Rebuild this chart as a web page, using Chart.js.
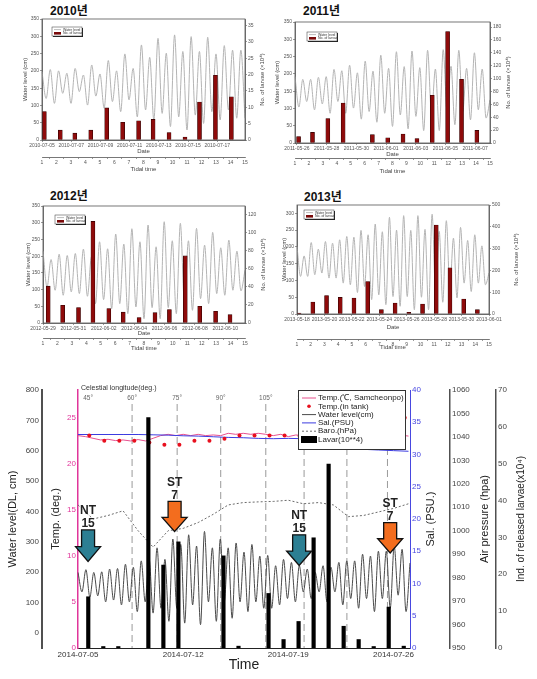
<!DOCTYPE html>
<html lang="ko">
<head>
<meta charset="utf-8">
<title>Water level and larvae release</title>
<script src="https://cdn.jsdelivr.net/npm/chart.js@4.4.1/dist/chart.umd.min.js"></script>
<style>
  html, body { margin: 0; padding: 0; background: #fff; }
  body { position: relative; width: 537px; height: 679px; overflow: hidden;
         font-family: "Liberation Sans", Arial, "Noto Sans CJK KR", sans-serif; }
  canvas { position: absolute; }
  .year { position: absolute; font-size: 12px; line-height: 12px; font-weight: bold; color: #111;
          font-family: "Liberation Sans", Arial, "Noto Sans CJK KR", sans-serif; }
</style>
</head>
<body>
<div class="year" style="left:50px; top:5px">2010년</div>
<div class="year" style="left:303px; top:5px">2011년</div>
<div class="year" style="left:50px; top:190px">2012년</div>
<div class="year" style="left:304px; top:191px">2013년</div>
<canvas id="c2010" width="268" height="176" style="left:0; top:0"></canvas>
<canvas id="c2011" width="269" height="176" style="left:268px; top:0"></canvas>
<canvas id="c2012" width="268" height="180" style="left:0; top:172px"></canvas>
<canvas id="c2013" width="269" height="180" style="left:268px; top:172px"></canvas>
<canvas id="c2014" width="537" height="329" style="left:0; top:350px"></canvas>
<script>
// ---- 2010 ----
const water2010 = [197,120,204,106,200,135,193,106,207,140,188,101,217,127,191,92,230,111,200,82,249,116,207,67,275,87,239,58,294,77,251,39,304,67,256,29,299,72,256,48,297,82,249,58,273,87,260,63,260,63];
const larvaeTide2010 = [1.3,2.4,3.4,4.5,5.6,6.7,7.8,8.8,9.9,11.0,12.0,13.1,14.2];
const larvae2010 = [8.7,3.0,2.1,3.0,9.8,5.4,5.9,6.3,2.3,0.9,11.6,19.8,13.2];
const dates2010 = ['2010-07-05','2010-07-07','2010-07-09','2010-07-11','2010-07-13','2010-07-15','2010-07-17'];

// ---- 2011 ----
const water2011 = [192,104,184,120,184,96,190,113,192,86,213,120,209,86,225,101,203,69,237,91,208,60,254,86,216,48,264,81,221,41,266,77,218,36,268,86,214,36,270,91,222,53,268,91,216,67,261,96,214,72,125];
const larvaeTide2011 = [1.4,2.4,3.5,4.6,6.7,7.8,8.9,9.9,11.0,12.1,13.1,14.2];
const larvae2011 = [10,16.5,38,62,13,8,14,7,74,173,99,19.5];
const dates2011 = ['2011-05-26','2011-05-28','2011-05-30','2011-06-01','2011-06-03','2011-06-05','2011-06-07'];

// ---- 2012 ----
const water2012 = [215,108,190,98,206,83,202,93,208,88,221,80,198,58,243,70,222,43,266,58,236,28,282,48,243,13,293,46,228,13,303,46,246,28,298,63,246,38,283,73,233,58,271,88,225,83,248,98,215,96,158];
const larvaeTide2012 = [1.5,2.5,3.6,4.6,5.7,6.7,7.8,8.9,9.9,11.0,12.0,13.1,14.1];
const larvae2012 = [40.6,19.6,17,112,16,12,6,11.4,14.8,74,18.5,13,9.2];
const dates2012 = ['2012-05-29','2012-05-31','2012-06-02','2012-06-04','2012-06-06','2012-06-08','2012-06-10'];

// ---- 2013 ----
const water2013 = [201,112,173,112,213,117,193,122,216,107,211,107,221,92,231,87,229,64,249,82,236,43,268,57,245,28,288,52,250,23,293,52,249,13,293,50,252,13,297,57,246,35,278,77,226,48,258,92,219,67,236,92,203,87,122];
const larvaeTide2013 = [1.3,2.3,3.3,4.3,5.3,6.3,7.3,8.3,9.3,10.3,11.3,12.3,13.3,14.3];
const larvae2013 = [4.6,55,85,76,73,149,20,50,7.6,46,408,212,69,20];
const dates2013 = ['2013-05-18','2013-05-20','2013-05-22','2013-05-24','2013-05-26','2013-05-28','2013-05-30','2013-06-01'];

// ---- 2014 (days counted from 2014-07-05) ----
const dates2014 = ['2014-07-05','2014-07-12','2014-07-19','2014-07-26'];
const water2014 = [199,135,208,118,199,122,201,102,210,108,212,92,226,102,216,70,237,102,242,65,280,81,242,38,309,81,291,32,323,92,286,27,334,102,280,38,309,102,280,48,296,102,266,70,291,102,253,81,255,81,221,92,242,113,232,102,221,135,210,113,199,135,221,102,216,135,232,92,237,113,237,81,259,113,253,70,269,113,269,81,286,124,275,70,230];
const seaTemp2014 = [23.05,22.94,22.76,22.58,22.65,22.51,22.58,22.47,22.62,22.47,22.76,23.05,23.19,23.05,23.19,23.05,23.19,23.05,23.12,23.05,23.30,23.19,23.30,23.19,23.30,23.19,23.05,23.19,22.94,23.12,23.05,23.12,23.0,23.1,23.0,23.1,23.0,23.1,23.05,23.1,23.0,23.1,23.05,23.1,23.0];
const tankDays2014 = [0.75,1.75,2.75,3.75,4.75,5.75,6.75,7.75,8.75,9.75,10.75,11.75,12.75,13.75,14.75,15.75,16.75,17.75,18.75,19.75,20.75,21.75];
const tankTemp2014 = [23.05,22.5,22.5,22.5,22.3,22.05,22.05,22.5,22.5,22.7,23.05,23.05,23.05,23.05,23.0,23.0,23.0,23.0,23.0,23.0,23.0,25.0];
const salinity2014 = [33.1,33.1,33.1,33.1,33.1,33.05,33.0,32.9,32.85,32.75,32.65,32.6,32.5,32.45,32.5,32.45,32.4,31.2,30.9,30.8,30.7,30.6,30.5];
const baro2014 = [1011,1005,1006.5,1008.5,1000,993,1000,1001,1003.5,1007,1011,1012,1012.3,1012.5,1013,1011.5,1012,1011,1006,1006.5,1008,1009.5,1011.5];
const larvaeDays2014 = [0.8,1.8,2.8,4.8,5.8,6.8,9.8,10.8,12.8,13.8,14.8,15.8,16.8,17.8,18.8,19.8,20.8,21.8];
const larvae2014 = [13.9,0.4,0.4,62.5,22.5,28.8,25,0.5,14.8,2.3,7.2,29.9,49.9,5.9,2.3,0.4,11.1,0.5];
const celestialDays = [0.67,3.6,6.6,9.5,12.5,15.05,17.9,20.6];
const celestialLabels = ['45°','60°','75°','90°','105°','120°','135°','150°'];
const tideArrows = [
  { day: 0.67, from: 339, to: 235, color: '#2c7f93', text: ['NT', '15'] },
  { day: 6.43, from: 433, to: 334, color: '#f36d1e', text: ['ST', '7'] },
  { day: 14.72, from: 323, to: 222, color: '#2c7f93', text: ['NT', '15'] },
  { day: 20.78, from: 363, to: 263, color: '#f36d1e', text: ['ST', '7'] }
];
const SEA_TEMP_STEP = 0.5;   // half-daily readings
const DAILY_STEP = 1;

Chart.defaults.font.family = '"Liberation Sans", Arial, sans-serif';
Chart.defaults.color = '#444';

// right-hand titles read bottom-to-top, like the left ones
const ccwTitles = {
  id: 'ccwTitles',
  afterDraw(chart, args, opts) {
    const ctx = chart.ctx;
    (opts.items || []).forEach(t => {
      const s = chart.scales[t.scale];
      ctx.save();
      ctx.translate(s.right - t.offset, (s.top + s.bottom) / 2);
      ctx.rotate(-Math.PI / 2);
      ctx.font = t.font;
      ctx.fillStyle = t.color || '#333';
      ctx.textAlign = 'center';
      ctx.textBaseline = 'middle';
      ctx.fillText(t.text, 0, 0);
      ctx.restore();
    });
  }
};
Chart.register(ccwTitles);

const plain = v => String(v);

function yearPanel(id, s, g) {
  const small = { size: 5 };
  const gridOpts = { drawOnChartArea: false, tickLength: 2, color: '#555', lineWidth: 0.6 };
  const borderOpts = { color: '#555', width: 0.8 };

  const frame = {
    id: 'frame',
    afterDraw(chart) {
      const { ctx, chartArea: a } = chart;
      ctx.save();
      ctx.strokeStyle = '#555';
      ctx.lineWidth = 0.8;
      ctx.strokeRect(a.left, a.top, a.right - a.left, a.bottom - a.top);
      // small legend box
      const x = a.left + g.leg[0], y = a.top + g.leg[1];
      ctx.fillStyle = '#222';
      ctx.fillRect(x + 1, y + 1, 30, 9);
      ctx.fillStyle = '#fff';
      ctx.fillRect(x, y, 30, 9);
      ctx.lineWidth = 0.5;
      ctx.strokeStyle = '#333';
      ctx.strokeRect(x, y, 30, 9);
      ctx.strokeStyle = '#aaa';
      ctx.lineWidth = 0.8;
      ctx.beginPath();
      ctx.moveTo(x + 2, y + 2.6);
      ctx.lineTo(x + 9, y + 2.6);
      ctx.stroke();
      ctx.fillStyle = '#7a0a0a';
      ctx.fillRect(x + 2, y + 5, 7, 2.6);
      ctx.fillStyle = '#333';
      ctx.font = '3.5px "Liberation Sans", Arial';
      ctx.textBaseline = 'middle';
      ctx.fillText('Water level', x + 11, y + 2.6);
      ctx.fillText('No. of larvae', x + 11, y + 6.3);
      ctx.restore();
    }
  };

  return new Chart(document.getElementById(id), {
    type: 'line',
    data: {
      datasets: [
        {
          type: 'bar',
          data: s.tide.map((t, i) => ({ x: t, y: s.larvae[i] })),
          xAxisID: 'tt', yAxisID: 'yr',
          backgroundColor: '#8e0b0b', borderColor: '#2b0000', borderWidth: 0.6,
          barThickness: 4, order: 0
        },
        {
          data: s.water,
          xAxisID: 'xw', yAxisID: 'yl',
          borderColor: '#b4b4b4', borderWidth: 1, pointRadius: 0,
          cubicInterpolationMode: 'monotone', order: 1
        }
      ]
    },
    options: {
      responsive: false,
      animation: false,
      events: [],
      layout: { padding: { top: g.top, left: 0, right: 0, bottom: 0 } },
      plugins: {
        legend: { display: false },
        tooltip: { enabled: false },
        ccwTitles: { items: [{ scale: 'yr', offset: g.rOff, text: 'No. of larvae (×10⁴)', font: '6px "Liberation Sans", Arial', color: '#444' }] }
      },
      scales: {
        xw: { type: 'category', labels: s.water.map((v, i) => String(i)), display: false, offset: false },
        xd: {
          type: 'linear', position: 'bottom', weight: 0, min: s.dateMin, max: s.dateMax, offset: false,
          ticks: {
            stepSize: 2, includeBounds: false, autoSkip: false, maxRotation: 0, padding: 1, font: small, color: '#555',
            callback: v => (Number.isInteger(v) && v % 2 === 0 ? s.dates[v / 2] : null)
          },
          grid: gridOpts, border: borderOpts,
          title: { display: true, text: 'Date', color: '#444', font: { size: 6 }, padding: { top: 0, bottom: g.dPad } },
          afterFit: sc => { sc.height = g.dateH; }
        },
        tt: {
          type: 'linear', position: 'bottom', weight: 1, min: 1, max: 15, offset: false,
          ticks: { stepSize: 1, autoSkip: false, maxRotation: 0, padding: 1, font: small, color: '#555' },
          grid: gridOpts, border: borderOpts,
          title: { display: true, text: 'Tidal time', color: '#444', font: { size: 6 }, padding: { top: 0, bottom: g.tPad } },
          afterFit: sc => { sc.height = g.ttH; }
        },
        yl: {
          position: 'left', min: 0, max: s.leftMax,
          ticks: { stepSize: 50, includeBounds: false, padding: 1, font: small, color: '#555' },
          grid: gridOpts, border: borderOpts,
          title: { display: true, text: 'Water level (cm)', color: '#444', font: { size: 6 }, padding: { top: g.lPad, bottom: 0 } },
          afterFit: sc => { sc.width = g.left; }
        },
        yr: {
          position: 'right', min: 0, max: s.rightMax,
          ticks: { stepSize: s.rightStep, includeBounds: false, padding: 1, font: small, color: '#555' },
          grid: gridOpts, border: borderOpts,
          afterFit: sc => { sc.width = g.right; }
        }
      }
    },
    plugins: [frame]
  });
}

yearPanel('c2010',
  { water: water2010, tide: larvaeTide2010, larvae: larvae2010, dates: dates2010, dateMin: 0, dateMax: 13.9, leftMax: 350, rightMax: 37, rightStep: 5 },
  { top: 19, left: 42, right: 23, dateH: 17, ttH: 19, lPad: 21.4, rOff: 6, dPad: 1.9, tPad: 3.4, leg: [10, 8] });
yearPanel('c2011',
  { water: water2011, tide: larvaeTide2011, larvae: larvae2011, dates: dates2011, dateMin: -0.13, dateMax: 13.0, leftMax: 350, rightMax: 187.8, rightStep: 20 },
  { top: 22, left: 27, right: 47, dateH: 15, ttH: 18, lPad: 5.4, rOff: 29, dPad: 0.4, tPad: 1.4, leg: [12, 10] });
yearPanel('c2012',
  { water: water2012, tide: larvaeTide2012, larvae: larvae2012, dates: dates2012, dateMin: 0, dateMax: 13.3, leftMax: 350, rightMax: 129, rightStep: 20 },
  { top: 34, left: 43, right: 23, dateH: 15, ttH: 14, lPad: 24.4, rOff: 5, dPad: 1.4, tPad: 0.4, leg: [12, 9] });
yearPanel('c2013',
  { water: water2013, tide: larvaeTide2013, larvae: larvae2013, dates: dates2013, dateMin: 0, dateMax: 14, leftMax: 324.7, rightMax: 500, rightStep: 100 },
  { top: 33, left: 29, right: 48, dateH: 25, ttH: 13, lPad: 12.4, rOff: 21, dPad: 8.4, tPad: 1.4, leg: [7, 5] });

// ---- 2014 chart ----
const legendRows = [
  { text: 'Temp.(℃, Samcheonpo)', kind: 'line', color: '#e8508e' },
  { text: 'Temp.(in tank)', kind: 'dot', color: '#e8101e' },
  { text: 'Water level(cm)', kind: 'line', color: '#4a4a4a' },
  { text: 'Sal.(PSU)', kind: 'line', color: '#3c3ce0' },
  { text: 'Baro.(hPa)', kind: 'dash', color: '#6a6a6a' },
  { text: 'Lavar(10**4)', kind: 'bar', color: '#000' }
];

function drawArrow(ctx, cx, top, bottom, color) {
  const head = (bottom - top) * 0.47, sw = 6.5, hw = 12.5;
  ctx.beginPath();
  ctx.moveTo(cx - sw, top);
  ctx.lineTo(cx + sw, top);
  ctx.lineTo(cx + sw, bottom - head);
  ctx.lineTo(cx + hw, bottom - head);
  ctx.lineTo(cx, bottom);
  ctx.lineTo(cx - hw, bottom - head);
  ctx.lineTo(cx - sw, bottom - head);
  ctx.closePath();
  ctx.fillStyle = color;
  ctx.fill();
  ctx.strokeStyle = '#111';
  ctx.lineWidth = 1.3;
  ctx.stroke();
}

const decor2014 = {
  id: 'decor2014',
  beforeDatasetsDraw(chart) {
    const { ctx, chartArea: a, scales: { x } } = chart;
    ctx.save();
    ctx.strokeStyle = '#9a9a9a';
    ctx.lineWidth = 1;
    ctx.setLineDash([7, 4]);
    celestialDays.forEach((d, i) => {
      if (i === 0) return;
      const px = x.getPixelForValue(d);
      ctx.beginPath();
      ctx.moveTo(px, a.top + 14);
      ctx.lineTo(px, a.bottom);
      ctx.stroke();
    });
    ctx.setLineDash([]);
    ctx.fillStyle = '#666';
    ctx.font = '6.5px "Liberation Sans", Arial';
    ctx.textAlign = 'center';
    ctx.textBaseline = 'middle';
    celestialDays.forEach((d, i) => ctx.fillText(celestialLabels[i], x.getPixelForValue(d), a.top + 8));
    ctx.textAlign = 'left';
    ctx.fillStyle = '#333';
    ctx.font = '7px "Liberation Sans", Arial';
    ctx.fillText('Celestial longitude(deg.)', a.left + 3, a.top - 1.5);
    ctx.restore();
  },
  afterDatasetsDraw(chart) {
    const { ctx, scales: { x, yWat } } = chart;
    ctx.save();
    tideArrows.forEach(ar => {
      const cx = x.getPixelForValue(ar.day);
      const top = yWat.getPixelForValue(ar.from);
      const bottom = yWat.getPixelForValue(ar.to);
      drawArrow(ctx, cx, top, bottom, ar.color);
      ctx.fillStyle = '#222';
      ctx.font = 'bold 12px "Liberation Sans", Arial';
      ctx.textAlign = 'center';
      ctx.textBaseline = 'middle';
      ctx.fillText(ar.text[0], cx, top - 19);
      ctx.fillText(ar.text[1], cx, top - 6);
    });
    ctx.restore();
  },
  afterDraw(chart) {
    const { ctx, chartArea: a } = chart;
    const L = a.right - 112, T = a.top, W = 107, H = 59;
    ctx.save();
    ctx.fillStyle = '#fff';
    ctx.fillRect(L, T, W, H);
    ctx.strokeStyle = '#333';
    ctx.lineWidth = 1;
    ctx.strokeRect(L + 0.5, T + 0.5, W, H);
    ctx.font = '8px "Liberation Sans", Arial';
    ctx.textBaseline = 'middle';
    ctx.textAlign = 'left';
    legendRows.forEach((r, i) => {
      const y = T + 8 + i * 8.3, x0 = L + 4, x1 = L + 18;
      ctx.strokeStyle = r.color;
      ctx.fillStyle = r.color;
      ctx.lineWidth = 1;
      if (r.kind === 'line' || r.kind === 'dash') {
        ctx.setLineDash(r.kind === 'dash' ? [2, 2] : []);
        ctx.beginPath();
        ctx.moveTo(x0, y);
        ctx.lineTo(x1, y);
        ctx.stroke();
        ctx.setLineDash([]);
      } else if (r.kind === 'dot') {
        ctx.beginPath();
        ctx.arc((x0 + x1) / 2, y, 1.8, 0, Math.PI * 2);
        ctx.fill();
      } else {
        ctx.fillRect(x0 - 1, y - 3.5, x1 - x0 + 2, 7);
      }
      ctx.fillStyle = '#222';
      ctx.fillText(r.text, L + 20, y);
    });
    ctx.restore();
  }
};

const f8 = { size: 8 };
new Chart(document.getElementById('c2014'), {
  type: 'line',
  data: {
    datasets: [
      {
        type: 'bar', data: larvaeDays2014.map((d, i) => ({ x: d, y: larvae2014[i] })),
        xAxisID: 'x', yAxisID: 'yLar', backgroundColor: '#000', barThickness: 3.5, order: 0
      },
      {
        data: tankDays2014.map((d, i) => ({ x: d, y: tankTemp2014[i] })),
        xAxisID: 'x', yAxisID: 'yTemp', showLine: false, pointRadius: 2,
        pointBackgroundColor: '#e8101e', pointBorderWidth: 0, order: 1
      },
      {
        data: water2014, xAxisID: 'xw', yAxisID: 'yWat',
        borderColor: '#4a4a4a', borderWidth: 1, pointRadius: 0, cubicInterpolationMode: 'monotone', order: 2
      },
      {
        data: baro2014.map((v, i) => ({ x: i * DAILY_STEP, y: v })), xAxisID: 'x', yAxisID: 'yBar',
        borderColor: '#6a6a6a', borderDash: [2, 2], borderWidth: 1, pointRadius: 0, order: 3
      },
      {
        data: salinity2014.map((v, i) => ({ x: i * DAILY_STEP, y: v })), xAxisID: 'x', yAxisID: 'ySal',
        borderColor: '#3c3ce0', borderWidth: 1, pointRadius: 0, order: 4
      },
      {
        data: seaTemp2014.map((v, i) => ({ x: i * SEA_TEMP_STEP, y: v })), xAxisID: 'x', yAxisID: 'yTemp',
        borderColor: '#e8508e', borderWidth: 1, pointRadius: 0, order: 5
      }
    ]
  },
  options: {
    responsive: false,
    animation: false,
    events: [],
    layout: { padding: { top: 40, left: 0, right: 0, bottom: 0 } },
    plugins: {
      legend: { display: false },
      tooltip: { enabled: false },
      ccwTitles: {
        items: [
          { scale: 'ySal', offset: 19, text: 'Sal. (PSU.)', font: '11px "Liberation Sans", Arial', color: '#222' },
          { scale: 'yBar', offset: 11, text: 'Air pressure (hpa)', font: '11px "Liberation Sans", Arial', color: '#222' },
          { scale: 'yLar', offset: 16, text: 'Ind. of released larvae(x10⁴)', font: '10px "Liberation Sans", Arial', color: '#222' }
        ]
      }
    },
    scales: {
      x: {
        type: 'linear', position: 'bottom', min: 0, max: 22.1, offset: false,
        ticks: {
          stepSize: 7, includeBounds: false, autoSkip: false, maxRotation: 0, padding: 2, font: f8, color: '#333',
          callback: v => (v % 7 === 0 ? dates2014[v / 7] : null)
        },
        grid: { display: false, drawTicks: false },
        border: { color: '#222', width: 1 },
        title: { display: true, text: 'Time', color: '#222', font: { size: 14 }, padding: { top: 0, bottom: 5.6 } },
        afterFit: sc => { sc.height = 31; }
      },
      xw: { type: 'category', labels: water2014.map((v, i) => String(i)), display: false, offset: false },
      yWat: {
        position: 'left', weight: 2, min: -50, max: 800,
        ticks: { stepSize: 100, includeBounds: false, padding: 3, font: f8, color: '#444', callback: plain },
        grid: { display: false, drawTicks: false },
        border: { color: '#505050', width: 2 },
        title: { display: true, text: 'Water level(DL, cm)', color: '#222', font: { size: 11 }, padding: { top: 6.4, bottom: 0 } },
        afterFit: sc => { sc.width = 42; }
      },
      yTemp: {
        position: 'left', weight: 1, min: 0, max: 28,
        ticks: { stepSize: 5, includeBounds: false, padding: 2, font: f8, color: '#e0359a', callback: plain },
        grid: { display: false, drawTicks: false },
        border: { color: '#e0359a', width: 1.5 },
        title: { display: true, text: 'Temp. (deg.)', color: '#222', font: { size: 11 }, padding: { top: 7.4, bottom: 0 } },
        afterFit: sc => { sc.width = 36; }
      },
      ySal: {
        position: 'right', weight: 1, min: 0, max: 40,
        ticks: { stepSize: 5, padding: 2, font: f8, color: '#4848e0', callback: plain },
        grid: { display: false, drawTicks: false },
        border: { color: '#4848e0', width: 1 },
        afterFit: sc => { sc.width = 40; }
      },
      yBar: {
        position: 'right', weight: 2, min: 950, max: 1060,
        ticks: { stepSize: 10, padding: 2, font: f8, color: '#444', callback: plain },
        grid: { display: false, drawTicks: false },
        border: { color: '#505050', width: 1.5 },
        afterFit: sc => { sc.width = 46; }
      },
      yLar: {
        position: 'right', weight: 3, min: 0, max: 70,
        ticks: { stepSize: 10, padding: 2, font: f8, color: '#444', callback: plain },
        grid: { display: false, drawTicks: false },
        border: { color: '#505050', width: 1.5 },
        afterFit: sc => { sc.width = 41; }
      }
    }
  },
  plugins: [decor2014]
});
</script>
</body>
</html>
